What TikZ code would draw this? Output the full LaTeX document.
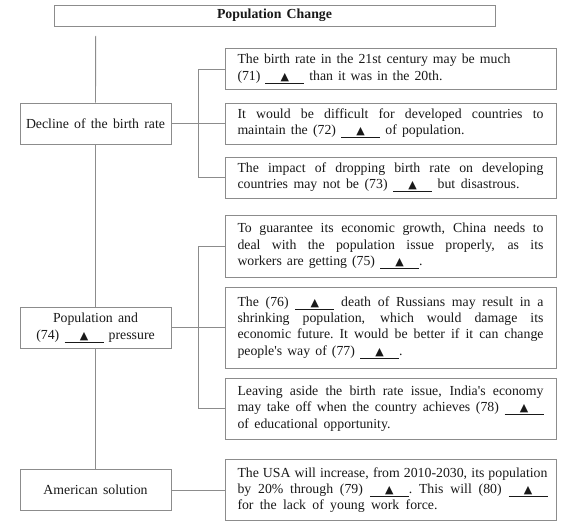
\documentclass[tikz,border=0pt]{standalone}
\usepackage{fontspec}
\setmainfont{Liberation Serif}
\newfontfamily\symfont{DejaVu Sans}
\newcommand\blk{\underline{\makebox[39pt]{\symfont\fontsize{11}{11}\selectfont ▲}}}
\newcommand\ns{\spaceskip=.38em plus .5em minus .12em\relax\xspaceskip=.38em plus .5em minus .12em\relax}
\newcommand\sline[1]{\makebox[306pt][s]{#1}}
\newcommand\wline[2]{\makebox[#1pt][s]{#2}}
\newcommand\apos{\textquotesingle}
\definecolor{lc}{RGB}{140,140,140}
\definecolor{tc}{RGB}{25,25,25}
\begin{document}
\begin{tikzpicture}[x=1pt,y=-1pt,
  box/.style={draw=lc, line width=0.9pt, fill=white, inner xsep=12.5pt, inner ysep=0pt,
    text width=306pt, align=left, text=tc, font=\fontsize{13.8}{16.3}\selectfont},
  lbox/.style={draw=lc, line width=0.9pt, fill=white, inner sep=0pt, minimum width=151pt,
    minimum height=41pt, align=center, text=tc, font=\fontsize{13.8}{16.8}\selectfont},
  conn/.style={draw=lc, line width=0.9pt}]
\useasboundingbox (0,0) rectangle (572,529);
\fill[white] (0,0) rectangle (572,529);

\node[draw=lc, line width=0.9pt, fill=white, minimum width=441pt, minimum height=21pt, inner sep=0pt,
  text=tc, font=\fontsize{13.8}{16}\selectfont\bfseries] (title) at (274.5,15.5) {\ns Population Change};

\coordinate (top) at (95.7,36);

\node[lbox] (decl) at (95.5,123.5) {\ns Decline of the birth rate};
\node[lbox] (pop) at (95.5,327.5) {\ns Population and\\\ns(74) \blk{} pressure};
\node[lbox] (amer) at (95.5,490) {\ns American solution};

\node[box, minimum height=41pt] (b71) at (390.5,69) {\ns\wline{273}{The birth rate in the 21st century may be much}\\\wline{205}{(71) \blk{} than it was in the 20th.}};
\node[box, minimum height=41pt] (b72) at (390.5,123.5) {\ns\sline{It would be difficult for developed countries to}\\\wline{227}{maintain the (72) \blk{} of population.}};
\node[box, minimum height=41pt] (b73) at (390.5,177.5) {\ns\sline{The impact of dropping birth rate on developing}\\\wline{282}{countries may not be (73) \blk{} but disastrous.}};

\node[box, minimum height=62pt] (b75) at (390.5,246) {\ns\sline{To guarantee its economic growth, China needs to}\\\sline{deal with the population issue properly, as its}\\\wline{185}{workers are getting (75) \blk{}.}};
\node[box, minimum height=81pt] (b76) at (390.5,327.5) {\ns\sline{The (76) \blk{} death of Russians may result in a}\\\sline{shrinking population, which would damage its}\\\sline{economic future. It would be better if it can change}\\\wline{165}{people\apos s way of (77) \blk{}.}};
\node[box, minimum height=61pt] (b78) at (390.5,408.5) {\ns\sline{Leaving aside the birth rate issue, India\apos s economy}\\\sline{may take off when the country achieves (78) \blk}\\\wline{153}{of educational opportunity.}};

\node[box, minimum height=61pt] (b79) at (390.5,490) {\ns\wline{310}{The USA will increase, from 2010-2030, its population}\\\wline{310}{by 20\% through (79) \blk{}. This will (80) \blk}\\\wline{200}{for the lack of young work force.}};

% main trunk
\draw[conn] (top) -- (decl.north);
\draw[conn] (decl.south) -- (pop.north);
\draw[conn] (pop.south) -- (amer.north);

% bracket 1
\coordinate (k1) at (198,69);
\coordinate (k3) at (198,177.5);
\draw[conn] (decl.east) -- (b72.west);
\draw[conn] (b71.west) -- (k1) -- (k3) -- (b73.west);

% bracket 2
\coordinate (k5) at (198,246);
\coordinate (k8) at (198,408.5);
\draw[conn] (pop.east) -- (b76.west);
\draw[conn] (b75.west) -- (k5) -- (k8) -- (b78.west);

% american
\draw[conn] (amer.east) -- (b79.west);
\end{tikzpicture}
\end{document}
